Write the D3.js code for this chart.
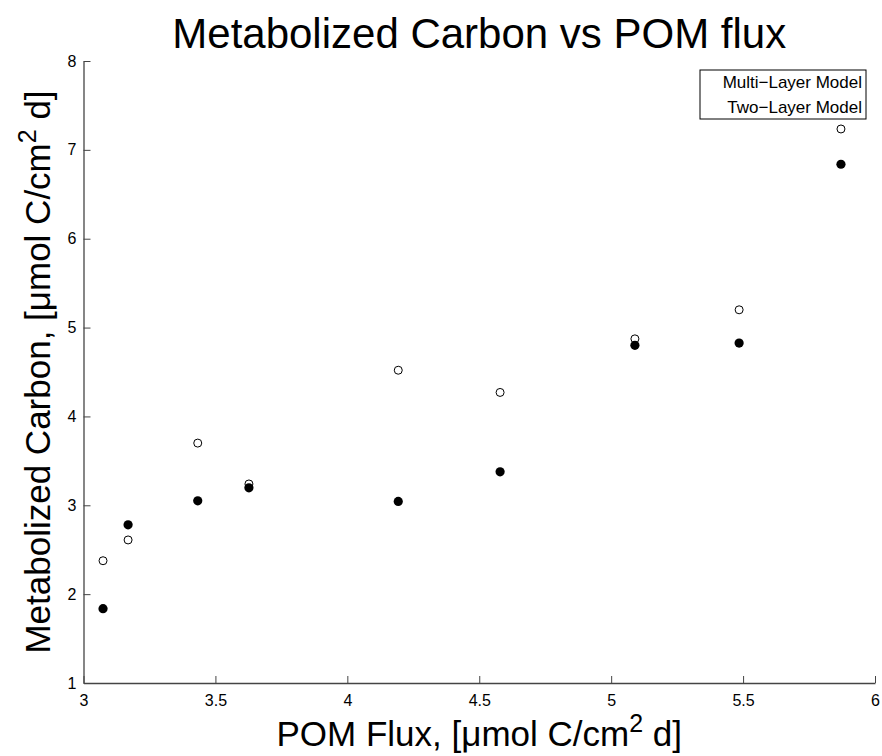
<!DOCTYPE html>
<html>
<head>
<meta charset="utf-8">
<script src="https://cdn.jsdelivr.net/npm/d3@7"></script>
<style>
  body { margin: 0; background: #fff; }
  svg { display: block; font-family: "Liberation Sans", Arial, Helvetica, sans-serif; }
</style>
</head>
<body>
<div id="chart"></div>
<script>
// POM flux values (x) and the two model results (y)
const pomFlux = [3.074, 3.169, 3.433, 3.627, 4.193, 4.579, 5.09, 5.485, 5.871];
const multiLayer = [1.836, 2.78, 3.05, 3.197, 3.043, 3.377, 4.80, 4.825, 6.838];
const twoLayer = [2.376, 2.61, 3.70, 3.24, 4.52, 4.27, 4.873, 5.20, 7.235];
const xTicks = [3, 3.5, 4, 4.5, 5, 5.5, 6];
const yTicks = [1, 2, 3, 4, 5, 6, 7, 8];
const seriesNames = ["Multi\u2212Layer Model", "Two\u2212Layer Model"];

const width = 882, height = 756;
const margin = { top: 61, right: 7, bottom: 73, left: 83.5 };

const svg = d3.select("#chart").append("svg")
  .attr("width", width)
  .attr("height", height);

const x = d3.scaleLinear()
  .domain([3, 6])
  .range([margin.left, width - margin.right]);

const y = d3.scaleLinear()
  .domain([1, 8])
  .range([height - margin.bottom, margin.top]);

const axisColor = "#444";

// x axis (ticks pointing inward)
const gx = svg.append("g")
  .attr("transform", `translate(0,${y(1)})`)
  .call(d3.axisBottom(x).tickValues(xTicks).tickSizeInner(-7).tickSizeOuter(0).tickPadding(12)
    .tickFormat(d3.format("")));
gx.select(".domain").attr("stroke", axisColor).attr("stroke-width", 1.3);
gx.selectAll(".tick line").attr("stroke", axisColor);
gx.selectAll(".tick text").attr("font-size", 16).attr("fill", "#000")
  .attr("font-family", "Liberation Sans, Arial, sans-serif");

// y axis
const gy = svg.append("g")
  .attr("transform", `translate(${x(3)},0)`)
  .call(d3.axisLeft(y).tickValues(yTicks).tickSizeInner(-7).tickSizeOuter(0).tickPadding(7)
    .tickFormat(d3.format("d")));
gy.select(".domain").attr("stroke", axisColor).attr("stroke-width", 1.3);
gy.selectAll(".tick line").attr("stroke", axisColor);
gy.selectAll(".tick text").attr("font-size", 16).attr("fill", "#000")
  .attr("font-family", "Liberation Sans, Arial, sans-serif");

// points
const pts = pomFlux.map((v, i) => ({ x: v, multi: multiLayer[i], two: twoLayer[i] }));

svg.append("g").selectAll("circle")
  .data(pts)
  .enter().append("circle")
    .attr("cx", d => x(d.x))
    .attr("cy", d => y(d.two))
    .attr("r", 4)
    .attr("fill", "#fff")
    .attr("stroke", "#000")
    .attr("stroke-width", 1);

svg.append("g").selectAll("circle")
  .data(pts)
  .enter().append("circle")
    .attr("cx", d => x(d.x))
    .attr("cy", d => y(d.multi))
    .attr("r", 4.6)
    .attr("fill", "#000");

// title
svg.append("text")
  .attr("x", (x(3) + x(6)) / 2)
  .attr("y", 48)
  .attr("text-anchor", "middle")
  .attr("font-size", 42)
  .text("Metabolized Carbon vs POM flux");

// x label
const xl = svg.append("text")
  .attr("x", (x(3) + x(6)) / 2)
  .attr("y", 746)
  .attr("text-anchor", "middle")
  .attr("font-size", 35);
xl.append("tspan").text("POM Flux, [\u03bcmol C/cm");
xl.append("tspan").attr("dy", -14).attr("font-size", 25).text("2");
xl.append("tspan").attr("dy", 14).text(" d]");

// y label
const yl = svg.append("text")
  .attr("transform", `translate(50,${(y(1) + y(8)) / 2}) rotate(-90)`)
  .attr("text-anchor", "middle")
  .attr("font-size", 35);
yl.append("tspan").text("Metabolized Carbon, [\u03bcmol C/cm");
yl.append("tspan").attr("dy", -14).attr("font-size", 25).text("2");
yl.append("tspan").attr("dy", 14).text(" d]");

// legend
const lg = svg.append("g").attr("transform", "translate(700,70)");
lg.append("rect")
  .attr("width", 166)
  .attr("height", 49)
  .attr("fill", "#fff")
  .attr("stroke", "#000")
  .attr("stroke-width", 1);
lg.selectAll("text")
  .data(seriesNames)
  .enter().append("text")
    .attr("x", 162)
    .attr("y", (d, i) => 18 + i * 25)
    .attr("text-anchor", "end")
    .attr("font-size", 17)
    .text(d => d);
</script>
</body>
</html>
